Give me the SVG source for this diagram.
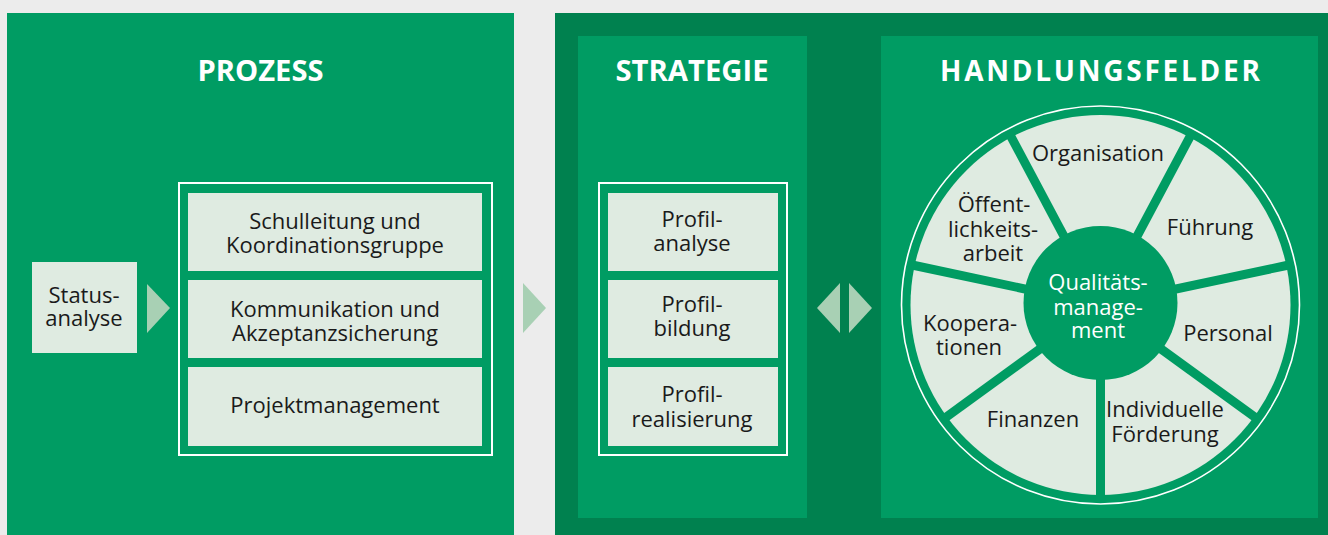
<svg xmlns="http://www.w3.org/2000/svg" width="1328" height="535" viewBox="0 0 1328 535">
<defs>
<style>
.bg{fill:#ececec}
.mid{fill:#009c63}
.dark{fill:#00814f}
.light{fill:#dfebe1}
.frame{fill:none;stroke:#ffffff;stroke-width:2}
.arrow{fill:#a8d0b4}
.title{font-family:"Open Sans","Liberation Sans",sans-serif;font-weight:700;font-size:28px;fill:#ffffff;text-anchor:middle}
.t{font-family:"Open Sans","Liberation Sans",sans-serif;font-size:22px;fill:#1a1a1a;text-anchor:middle}
.tw{font-family:"Open Sans","Liberation Sans",sans-serif;font-size:22px;fill:#ffffff;text-anchor:middle}
.spoke{stroke:#009c63;stroke-width:9}
</style>
</defs>
<rect class="bg" x="0" y="0" width="1328" height="535"/>
<g id="panel-prozess">
<rect class="mid" x="7" y="13" width="507" height="522"/>
<text class="title" x="260.5" y="81" textLength="126" lengthAdjust="spacingAndGlyphs">PROZESS</text>
<rect class="frame" x="179" y="183" width="313" height="272"/>
</g>
<g id="panel-right">
<rect class="dark" x="555" y="13" width="773" height="522"/>
<rect class="mid" x="578" y="36" width="229" height="482"/>
<rect class="mid" x="881" y="36" width="437" height="482"/>
<text class="title" x="692" y="81" textLength="153" lengthAdjust="spacingAndGlyphs">STRATEGIE</text>
<text class="title" x="1100" y="81" textLength="320" lengthAdjust="spacing">HANDLUNGSFELDER</text>
<rect class="frame" x="599" y="183" width="188" height="272"/>
</g>
<g id="node-status">
<rect class="light" x="32" y="262" width="105" height="91"/>
<text class="t"><tspan x="84" y="303">Status-</tspan><tspan x="84" y="326">analyse</tspan></text>
</g>
<g id="node-schulleitung">
<rect class="light" x="188" y="193" width="294" height="78"/>
<text class="t"><tspan x="335" y="229">Schulleitung und</tspan><tspan x="335" y="253">Koordinationsgruppe</tspan></text>
</g>
<g id="node-kommunikation">
<rect class="light" x="188" y="280" width="294" height="78"/>
<text class="t"><tspan x="335" y="317">Kommunikation und</tspan><tspan x="335" y="341">Akzeptanzsicherung</tspan></text>
</g>
<g id="node-projektmanagement">
<rect class="light" x="188" y="367" width="294" height="79"/>
<text class="t" x="335" y="413">Projektmanagement</text>
</g>
<g id="node-profilanalyse">
<rect class="light" x="608" y="193" width="170" height="78"/>
<text class="t"><tspan x="692" y="227">Profil-</tspan><tspan x="692" y="251">analyse</tspan></text>
</g>
<g id="node-profilbildung">
<rect class="light" x="608" y="280" width="170" height="78"/>
<text class="t"><tspan x="692" y="312">Profil-</tspan><tspan x="692" y="336">bildung</tspan></text>
</g>
<g id="node-profilrealisierung">
<rect class="light" x="608" y="367" width="170" height="79"/>
<text class="t"><tspan x="692" y="402">Profil-</tspan><tspan x="692" y="427">realisierung</tspan></text>
</g>
<g id="connectors">
<polygon class="arrow" points="147,284 170,308 147,333"/>
<polygon class="arrow" points="523,283 546,308 523,333"/>
<polygon class="arrow" points="840,283 817,308 840,333"/>
<polygon class="arrow" points="849,283 872,308 849,333"/>
</g>
<g id="wheel">
<circle cx="1100.5" cy="305" r="190" fill="#dfebe1"/>
<line class="spoke" x1="1100.5" y1="305" x2="1009" y2="132.8"/>
<line class="spoke" x1="1100.5" y1="305" x2="1192" y2="132.8"/>
<line class="spoke" x1="1100.5" y1="305" x2="1291.2" y2="264.5"/>
<line class="spoke" x1="1100.5" y1="305" x2="1258.3" y2="419.6"/>
<line class="spoke" x1="1100.5" y1="305" x2="1100.5" y2="500"/>
<line class="spoke" x1="1100.5" y1="305" x2="942.7" y2="419.6"/>
<line class="spoke" x1="1100.5" y1="305" x2="909.8" y2="264.5"/>
<circle cx="1100.5" cy="303" r="77" fill="#009c63"/>
<circle cx="1100.5" cy="305" r="199" fill="none" stroke="#ffffff" stroke-width="1.6"/>
</g>
<g id="node-qualitaet">
<text class="tw"><tspan x="1098" y="290">Qualitäts-</tspan><tspan x="1098" y="315">manage-</tspan><tspan x="1098" y="338">ment</tspan></text>
</g>
<g id="node-organisation"><text class="t" x="1098" y="161">Organisation</text></g>
<g id="node-fuehrung"><text class="t" x="1210" y="235">Führung</text></g>
<g id="node-personal"><text class="t" x="1228" y="341">Personal</text></g>
<g id="node-foerderung">
<text class="t"><tspan x="1165" y="417">Individuelle</tspan><tspan x="1165" y="442">Förderung</tspan></text>
</g>
<g id="node-finanzen"><text class="t" x="1033" y="427">Finanzen</text></g>
<g id="node-kooperationen">
<text class="t"><tspan x="970" y="331">Koopera-</tspan><tspan x="969" y="355">tionen</tspan></text>
</g>
<g id="node-oeffentlichkeit">
<text class="t"><tspan x="994" y="212">Öffent-</tspan><tspan x="993" y="237">lichkeits-</tspan><tspan x="993" y="261">arbeit</tspan></text>
</g>
</svg>
